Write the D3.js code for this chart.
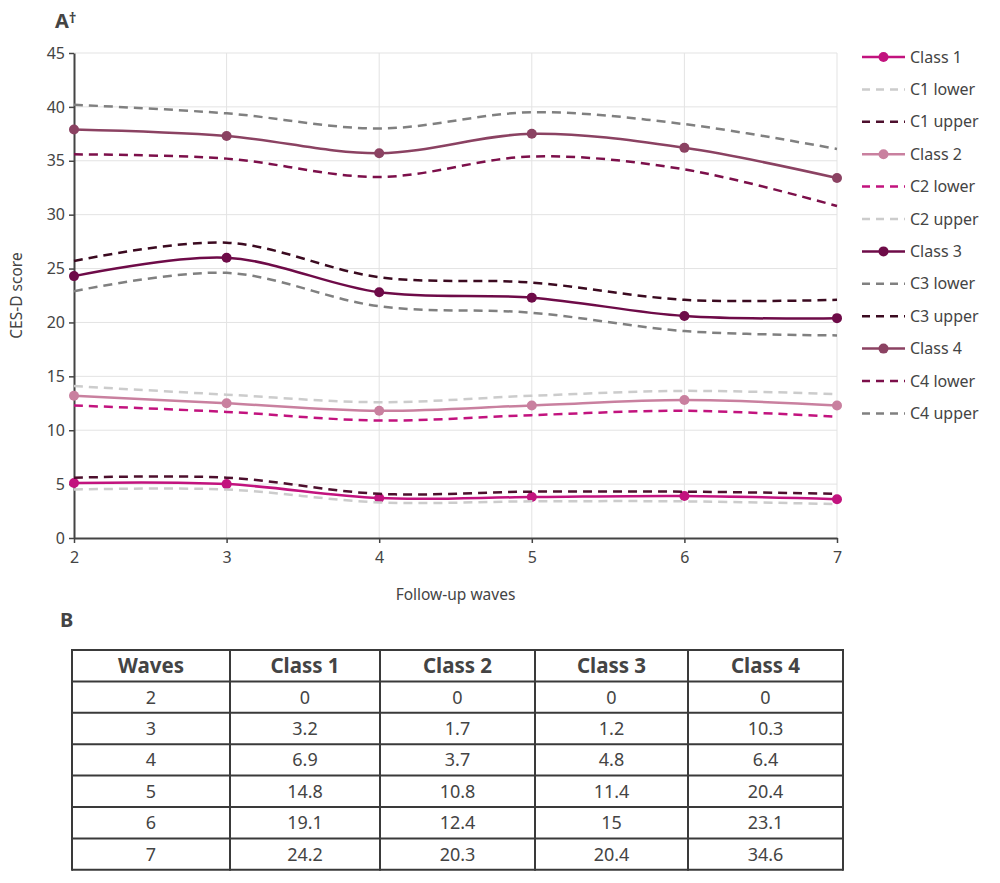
<!DOCTYPE html>
<html>
<head>
<meta charset="utf-8">
<script src="https://cdn.jsdelivr.net/npm/d3@7"></script>
<style>
  body { margin: 0; background: #fff; font-family: "Noto Sans", sans-serif; }
  text { fill: #444; }
</style>
</head>
<body>
<div id="chart"></div>
<script>
// Data
const waves = [2, 3, 4, 5, 6, 7];
const class1 = [5.1, 5.0, 3.7, 3.8, 3.9, 3.6];
const c1Lower = [4.5, 4.5, 3.3, 3.4, 3.4, 3.15];
const c1Upper = [5.6, 5.6, 4.1, 4.3, 4.3, 4.1];
const class2 = [13.2, 12.5, 11.8, 12.3, 12.8, 12.3];
const c2Lower = [12.3, 11.7, 10.9, 11.4, 11.8, 11.25];
const c2Upper = [14.1, 13.3, 12.6, 13.2, 13.65, 13.35];
const class3 = [24.3, 26.0, 22.8, 22.3, 20.6, 20.4];
const c3Lower = [22.9, 24.6, 21.5, 20.9, 19.2, 18.8];
const c3Upper = [25.7, 27.4, 24.2, 23.7, 22.1, 22.1];
const class4 = [37.9, 37.3, 35.7, 37.5, 36.2, 33.4];
const c4Lower = [35.6, 35.2, 33.5, 35.4, 34.2, 30.8];
const c4Upper = [40.2, 39.4, 38.0, 39.5, 38.4, 36.1];
const yTicks = [0, 5, 10, 15, 20, 25, 30, 35, 40, 45];

const tableHeader = ["Waves", "Class 1", "Class 2", "Class 3", "Class 4"];
const tableClass1 = ["0", "3.2", "6.9", "14.8", "19.1", "24.2"];
const tableClass2 = ["0", "1.7", "3.7", "10.8", "12.4", "20.3"];
const tableClass3 = ["0", "1.2", "4.8", "11.4", "15", "20.4"];
const tableClass4 = ["0", "10.3", "6.4", "20.4", "23.1", "34.6"];

// Series, drawn bottom to top in legend order
const series = [
    {name: "Class 1", values: class1, color: "#c2137e", dashed: false},
    {name: "C1 lower", values: c1Lower, color: "#cccccc", dashed: true},
    {name: "C1 upper", values: c1Upper, color: "#4d0f2d", dashed: true},
    {name: "Class 2", values: class2, color: "#c9809f", dashed: false},
    {name: "C2 lower", values: c2Lower, color: "#c2137e", dashed: true},
    {name: "C2 upper", values: c2Upper, color: "#cccccc", dashed: true},
    {name: "Class 3", values: class3, color: "#6e0b48", dashed: false},
    {name: "C3 lower", values: c3Lower, color: "#808080", dashed: true},
    {name: "C3 upper", values: c3Upper, color: "#3b0a20", dashed: true},
    {name: "Class 4", values: class4, color: "#8b4262", dashed: false},
    {name: "C4 lower", values: c4Lower, color: "#7c0f4a", dashed: true},
    {name: "C4 upper", values: c4Upper, color: "#808080", dashed: true}
];

const font = "'Noto Sans', sans-serif";

const svg = d3.select("#chart")
    .append("svg")
    .attr("width", 1000)
    .attr("height", 883)
    .style("font-family", font);

// Plot area
const plot = {left: 74, right: 837, top: 53, bottom: 538};

const x = d3.scaleLinear()
    .domain([2, 7])
    .range([plot.left, plot.right]);

const y = d3.scaleLinear()
    .domain([0, 45])
    .range([plot.bottom, plot.top]);

// Gridlines
svg.append("g")
    .selectAll("line")
    .data(yTicks.slice(1))
    .enter()
    .append("line")
    .attr("x1", plot.left)
    .attr("x2", plot.right)
    .attr("y1", d => y(d))
    .attr("y2", d => y(d))
    .attr("stroke", "#e3e3e3")
    .attr("stroke-width", 1);

svg.append("g")
    .selectAll("line")
    .data(waves.slice(1))
    .enter()
    .append("line")
    .attr("x1", d => x(d))
    .attr("x2", d => x(d))
    .attr("y1", plot.top)
    .attr("y2", plot.bottom)
    .attr("stroke", "#e3e3e3")
    .attr("stroke-width", 1);

// Axes
const xAxis = svg.append("g")
    .attr("transform", `translate(0,${plot.bottom})`)
    .call(d3.axisBottom(x).tickValues(waves).tickFormat(d3.format("d")).tickSize(5).tickSizeOuter(0));

const yAxis = svg.append("g")
    .attr("transform", `translate(${plot.left},0)`)
    .call(d3.axisLeft(y).tickValues(yTicks).tickSize(5).tickSizeOuter(0));

[xAxis, yAxis].forEach(a => {
    a.select(".domain").attr("stroke", "#444").attr("stroke-width", 2);
    a.selectAll(".tick line").attr("stroke", "#444").attr("stroke-width", 1.5);
    a.selectAll("text")
        .attr("fill", "#444")
        .style("font-size", "16px")
        .style("font-family", font);
});
xAxis.selectAll("text").attr("dy", "1.05em");
yAxis.selectAll("text").attr("x", -9);

// Axis titles
svg.append("text")
    .attr("x", (plot.left + plot.right) / 2)
    .attr("y", 600)
    .attr("text-anchor", "middle")
    .style("font-size", "15.5px")
    .text("Follow-up waves");

svg.append("text")
    .attr("transform", `translate(22,${(plot.top + plot.bottom) / 2}) rotate(-90)`)
    .attr("text-anchor", "middle")
    .style("font-size", "15.5px")
    .text("CES-D score");

// Panel labels
const panelA = svg.append("text")
    .attr("x", 55)
    .attr("y", 28)
    .style("font-size", "20px")
    .style("font-weight", "bold")
    .attr("fill", "#333");
panelA.append("tspan").text("A");
panelA.append("tspan")
    .attr("dy", -5)
    .style("font-size", "15px")
    .text("\u2020");

svg.append("text")
    .attr("x", 60)
    .attr("y", 627)
    .style("font-size", "20px")
    .style("font-weight", "bold")
    .attr("fill", "#333")
    .text("B");

// Lines
const line = d3.line()
    .x((d, i) => x(waves[i]))
    .y(d => y(d))
    .curve(d3.curveCatmullRom.alpha(0.5));

series.forEach(s => {
    svg.append("path")
        .datum(s.values)
        .attr("d", line)
        .attr("fill", "none")
        .attr("stroke", s.color)
        .attr("stroke-width", 2.5)
        .attr("stroke-dasharray", s.dashed ? "9,6" : null);

    if (!s.dashed) {
        svg.append("g")
            .selectAll("circle")
            .data(s.values)
            .enter()
            .append("circle")
            .attr("cx", (d, i) => x(waves[i]))
            .attr("cy", d => y(d))
            .attr("r", 5)
            .attr("fill", s.color);
    }
});

// Legend
const legend = svg.append("g")
    .attr("transform", "translate(862,57)");

const legendRow = legend.selectAll("g")
    .data(series)
    .enter()
    .append("g")
    .attr("transform", (d, i) => `translate(0,${i * 32.4})`);

legendRow.append("line")
    .attr("x1", 0)
    .attr("x2", 43)
    .attr("stroke", d => d.color)
    .attr("stroke-width", 2.5)
    .attr("stroke-dasharray", d => d.dashed ? "8,6" : null);

legendRow.filter(d => !d.dashed)
    .append("circle")
    .attr("cx", 21.5)
    .attr("r", 5)
    .attr("fill", d => d.color);

legendRow.append("text")
    .attr("x", 48)
    .attr("dy", "0.35em")
    .style("font-size", "16px")
    .text(d => d.name);

// Table
const colEdges = [72, 230, 380, 535, 688, 843];
const rowTop = 650;
const rowH = 31.4;
const tableRows = [tableHeader].concat(waves.map((w, i) =>
    [String(w), tableClass1[i], tableClass2[i], tableClass3[i], tableClass4[i]]));

const table = svg.append("g");

tableRows.forEach((row, r) => {
    row.forEach((cell, c) => {
        table.append("text")
            .attr("x", (colEdges[c] + colEdges[c + 1]) / 2)
            .attr("y", rowTop + r * rowH + rowH / 2)
            .attr("dy", "0.36em")
            .attr("text-anchor", "middle")
            .attr("fill", "#333")
            .style("font-size", r === 0 ? "20.5px" : "18px")
            .style("font-weight", r === 0 ? "bold" : "normal")
            .text(cell);
    });
});

table.selectAll(".hline")
    .data(d3.range(tableRows.length + 1))
    .enter()
    .append("line")
    .attr("x1", colEdges[0])
    .attr("x2", colEdges[colEdges.length - 1])
    .attr("y1", d => rowTop + d * rowH)
    .attr("y2", d => rowTop + d * rowH)
    .attr("stroke", "#3a3a3a")
    .attr("stroke-width", 2);

table.selectAll(".vline")
    .data(colEdges)
    .enter()
    .append("line")
    .attr("x1", d => d)
    .attr("x2", d => d)
    .attr("y1", rowTop - 1)
    .attr("y2", rowTop + tableRows.length * rowH + 1)
    .attr("stroke", "#3a3a3a")
    .attr("stroke-width", 2);
</script>
</body>
</html>
